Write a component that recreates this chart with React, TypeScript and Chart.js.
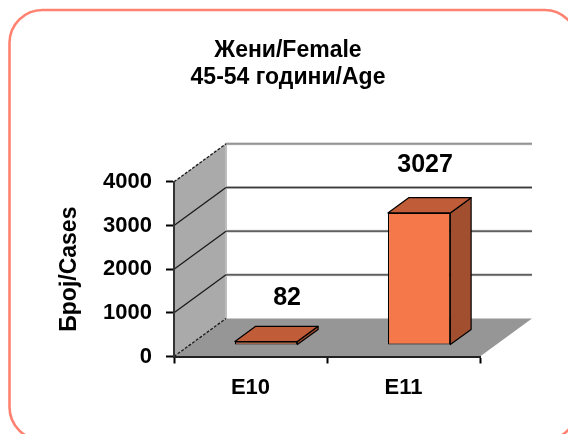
import React, { useEffect, useRef } from "react";
import { Chart, registerables } from "chart.js";

Chart.register(...registerables);

const titleLines = ["Жени/Female", "45-54 години/Age"];
const yAxisTitle = "Број/Cases";
const categories = ["E10", "E11"];
const caseValues = [82, 3027];
const yMax = 4000;
const yStep = 1000;
const labelShift = [[21, -43], [6, -48]];

const FONT = "'Liberation Sans', Arial, sans-serif";
const depthX = 52;
const depthY = 38;
const barStart = 0.3;
const barEnd = 0.7;

const wallPlugin = {
  id: "wall3d",
  beforeDraw(chart: any) {
    const { ctx, chartArea: a, scales } = chart;
    ctx.save();
    ctx.fillStyle = "#fff";
    ctx.fillRect(0, 0, chart.width, chart.height);
    ctx.beginPath();
    ctx.roundRect(9.5, 10, 568, 430, 33);
    ctx.strokeStyle = "#FF8270";
    ctx.lineWidth = 2.6;
    ctx.stroke();
    // floor
    ctx.fillStyle = "#969696";
    ctx.beginPath();
    ctx.moveTo(a.left, a.bottom);
    ctx.lineTo(a.right, a.bottom);
    ctx.lineTo(a.right + depthX, a.bottom - depthY);
    ctx.lineTo(a.left + depthX, a.bottom - depthY);
    ctx.closePath();
    ctx.fill();
    // left wall
    ctx.fillStyle = "#A9AAA9";
    ctx.beginPath();
    ctx.moveTo(a.left, a.bottom);
    ctx.lineTo(a.left, a.top);
    ctx.lineTo(a.left + depthX, a.top - depthY);
    ctx.lineTo(a.left + depthX, a.bottom - depthY);
    ctx.closePath();
    ctx.fill();
    // back wall edge
    ctx.strokeStyle = "#bdbdbd";
    ctx.lineWidth = 2;
    ctx.beginPath();
    ctx.moveTo(a.left + depthX, a.bottom - depthY);
    ctx.lineTo(a.left + depthX, a.top - depthY);
    ctx.stroke();
    // grid lines from the value scale
    const y = scales.y;
    y.ticks.forEach((t: any) => {
      const py = y.getPixelForValue(t.value);
      const isBottom = t.value === 0;
      const isTop = t.value === yMax;
      if (!isBottom) {
        ctx.strokeStyle = "#cfcfcf";
        ctx.lineWidth = 3;
        ctx.beginPath();
        ctx.moveTo(a.left + depthX, py - depthY);
        ctx.lineTo(a.right + depthX, py - depthY);
        ctx.stroke();
        ctx.strokeStyle = isTop ? "#808080" : "#3a3a3a";
        ctx.lineWidth = 1.3;
        ctx.beginPath();
        ctx.moveTo(a.left + depthX, py - depthY);
        ctx.lineTo(a.right + depthX, py - depthY);
        ctx.stroke();
      }
      ctx.strokeStyle = "#1a1a1a";
      ctx.lineWidth = 1.3;
      ctx.setLineDash(isTop || isBottom ? [3, 1.5] : []);
      ctx.beginPath();
      ctx.moveTo(a.left, py);
      ctx.lineTo(a.left + depthX, py - depthY);
      ctx.stroke();
      ctx.setLineDash([]);
    });
    ctx.restore();
  },
  beforeDatasetsDraw(chart: any) {
    const { ctx } = chart;
    const meta = chart.getDatasetMeta(0);
    const sx = depthX * barStart;
    const sy = depthY * barStart;
    const ox = depthX * (barEnd - barStart);
    const oy = depthY * (barEnd - barStart);
    ctx.save();
    ctx.translate(sx, -sy);
    ctx.strokeStyle = "#000";
    ctx.lineWidth = 1.2;
    ctx.lineJoin = "round";
    meta.data.forEach((b: any) => {
      const l = b.x - b.width / 2;
      const r = b.x + b.width / 2;
      ctx.fillStyle = "#A14F2F";
      ctx.beginPath();
      ctx.moveTo(r, b.base);
      ctx.lineTo(r + ox, b.base - oy);
      ctx.lineTo(r + ox, b.y - oy);
      ctx.lineTo(r, b.y);
      ctx.closePath();
      ctx.fill();
      ctx.stroke();
      ctx.fillStyle = "#C05C37";
      ctx.beginPath();
      ctx.moveTo(l, b.y);
      ctx.lineTo(l + ox, b.y - oy);
      ctx.lineTo(r + ox, b.y - oy);
      ctx.lineTo(r, b.y);
      ctx.closePath();
      ctx.fill();
      ctx.stroke();
    });
    ctx.restore();
    ctx.save();
    ctx.translate(sx, -sy);
  },
  afterDatasetsDraw(chart: any) {
    chart.ctx.restore();
  },
  afterDraw(chart: any) {
    const { ctx } = chart;
    const meta = chart.getDatasetMeta(0);
    ctx.save();
    ctx.fillStyle = "#000";
    ctx.font = `bold 25px ${FONT}`;
    ctx.textAlign = "center";
    ctx.textBaseline = "middle";
    meta.data.forEach((b: any, i: number) => {
      ctx.fillText(
        String(caseValues[i]),
        b.x + depthX * barStart + labelShift[i][0],
        b.y - depthY * barStart + labelShift[i][1]
      );
    });
    ctx.restore();
  },
};

export default function App() {
  const ref = useRef<HTMLCanvasElement>(null);
  useEffect(() => {
    document.body.style.margin = "0";
    const chart = new Chart(ref.current!, {
      type: "bar",
      data: {
        labels: categories,
        datasets: [
          {
            data: caseValues,
            backgroundColor: "#F5784B",
            borderColor: "#000",
            borderWidth: 1.2,
            borderSkipped: false,
            barPercentage: 0.408,
            categoryPercentage: 1,
            clip: false as any,
          },
        ],
      },
      options: {
        responsive: false,
        animation: false,
        layout: { padding: { left: 8, right: 0, top: 0, bottom: 0 } },
        plugins: {
          legend: { display: false },
          tooltip: { enabled: false },
          title: {
            display: true,
            text: titleLines,
            color: "#000",
            font: { family: FONT, size: 23, weight: "bold", lineHeight: 1.17 },
            padding: { top: 37, bottom: 91 },
          },
        },
        scales: {
          x: {
            grid: { display: true, drawOnChartArea: false, color: "#000", tickLength: 7, tickWidth: 2 },
            border: { color: "#222", width: 2 },
            ticks: { color: "#000", font: { family: FONT, size: 22, weight: "bold" }, padding: 11, maxRotation: 0 },
            afterFit: (s: any) => { s.height = 77.5; },
          },
          y: {
            min: 0,
            max: yMax,
            grid: { display: true, drawOnChartArea: false, color: "#000", tickLength: 8, tickWidth: 2 },
            border: { color: "#333", width: 2 },
            ticks: {
              stepSize: yStep,
              color: "#000",
              font: { family: FONT, size: 22, weight: "bold" },
              padding: 14,
              callback: (v: any) => String(v),
            },
            title: {
              display: true,
              text: yAxisTitle,
              color: "#000",
              font: { family: FONT, size: 23, weight: "bold" },
              padding: { top: 48, bottom: 0 },
            },
            afterFit: (s: any) => { s.width = 166; },
          },
          // empty axis that reserves the room taken by the depth of the 3D walls
          depth: {
            position: "right",
            grid: { display: false },
            border: { display: false },
            ticks: { display: false },
            afterFit: (s: any) => { s.width = 88; },
          },
        },
      },
      plugins: [wallPlugin],
    });
    return () => chart.destroy();
  }, []);
  return <canvas ref={ref} width={568} height={434} style={{ display: "block" }} />;
}
